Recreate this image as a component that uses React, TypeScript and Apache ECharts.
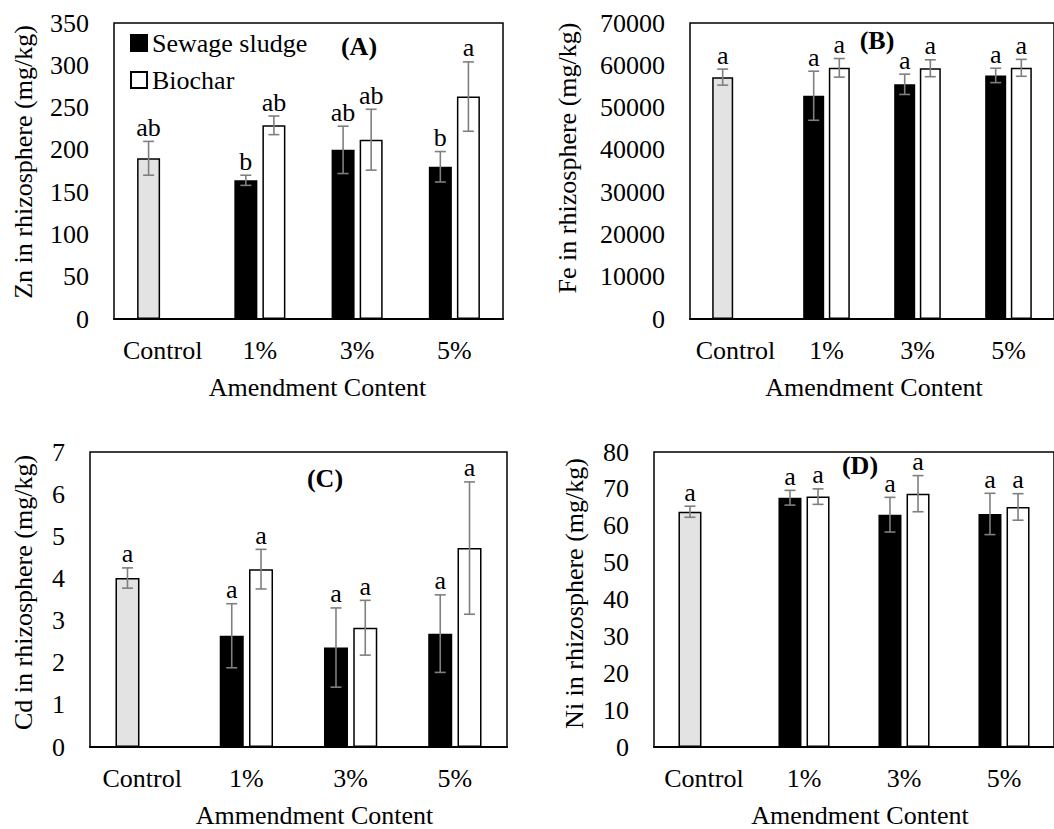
import React, { useEffect, useRef } from "react";
import * as echarts from "echarts";

const categories = ["Control", "1%", "3%", "5%"];

// Panel A: Zn
const znSludge = [190, 164, 200, 180];
const znSludgeErr = [20, 6, 28, 18];
const znSludgeLetters = ["ab", "b", "ab", "b"];
const znBiochar = [null, 229, 212, 263];
const znBiocharErr = [null, 11, 36, 41];
const znBiocharLetters = ["", "ab", "ab", "a"];

// Panel B: Fe
const feSludge = [57200, 52800, 55500, 57600];
const feSludgeErr = [1900, 5800, 2400, 1700];
const feSludgeLetters = ["a", "a", "a", "a"];
const feBiochar = [null, 59400, 59300, 59400];
const feBiocharErr = [null, 2200, 2000, 2000];
const feBiocharLetters = ["", "a", "a", "a"];

// Panel C: Cd
const cdSludge = [4.01, 2.64, 2.36, 2.69];
const cdSludgeErr = [0.24, 0.76, 0.94, 0.92];
const cdSludgeLetters = ["a", "a", "a", "a"];
const cdBiochar = [null, 4.22, 2.83, 4.72];
const cdBiocharErr = [null, 0.47, 0.65, 1.57];
const cdBiocharLetters = ["", "a", "a", "a"];

// Panel D: Ni
const niSludge = [63.8, 67.6, 63.0, 63.2];
const niSludgeErr = [1.5, 2.0, 4.7, 5.6];
const niSludgeLetters = ["a", "a", "a", "a"];
const niBiochar = [null, 67.9, 68.7, 65.1];
const niBiocharErr = [null, 2.1, 4.9, 3.6];
const niBiocharLetters = ["", "a", "a", "a"];

const FONT = "Liberation Serif";
const FS = 26;

type Panel = {
  tag: string;
  yName: string;
  xName: string;
  max: number;
  interval: number;
  sludge: (number | null)[];
  sludgeErr: (number | null)[];
  sludgeLetters: string[];
  biochar: (number | null)[];
  biocharErr: (number | null)[];
  biocharLetters: string[];
  grid: { left: number; top: number; width: number; height: number };
  barW: number;
  yNameGap: number;
  yNameShift: number;
  xNameShift: number;
  tagPos: [number, number];
};

const panels: Panel[] = [
  {
    tag: "(A)", yName: "Zn in rhizosphere (mg/kg)", xName: "Amendment Content",
    max: 350, interval: 50,
    sludge: znSludge, sludgeErr: znSludgeErr, sludgeLetters: znSludgeLetters,
    biochar: znBiochar, biocharErr: znBiocharErr, biocharLetters: znBiocharLetters,
    grid: { left: 114, top: 23, width: 389, height: 296 }, barW: 23,
    yNameGap: 78, yNameShift: 9, xNameShift: 9, tagPos: [359, 46],
  },
  {
    tag: "(B)", yName: "Fe in rhizosphere (mg/kg)", xName: "Amendment Content",
    max: 70000, interval: 10000,
    sludge: feSludge, sludgeErr: feSludgeErr, sludgeLetters: feSludgeLetters,
    biochar: feBiochar, biocharErr: feBiocharErr, biocharLetters: feBiocharLetters,
    grid: { left: 690, top: 23, width: 366, height: 296 }, barW: 21,
    yNameGap: 110, yNameShift: 13, xNameShift: 2, tagPos: [877, 40],
  },
  {
    tag: "(C)", yName: "Cd in rhizosphere (mg/kg)", xName: "Ammendment Content",
    max: 7, interval: 1,
    sludge: cdSludge, sludgeErr: cdSludgeErr, sludgeLetters: cdSludgeLetters,
    biochar: cdBiochar, biocharErr: cdBiocharErr, biocharLetters: cdBiocharLetters,
    grid: { left: 90, top: 452, width: 417, height: 296 }, barW: 24,
    yNameGap: 54, yNameShift: 7, xNameShift: 16, tagPos: [325, 478],
  },
  {
    tag: "(D)", yName: "Ni in rhizosphere (mg/kg)", xName: "Amendment Content",
    max: 80, interval: 10,
    sludge: niSludge, sludgeErr: niSludgeErr, sludgeLetters: niSludgeLetters,
    biochar: niBiochar, biocharErr: niBiocharErr, biocharLetters: niBiocharLetters,
    grid: { left: 654, top: 452, width: 403, height: 296 }, barW: 23,
    yNameGap: 67, yNameShift: 6, xNameShift: 6, tagPos: [860, 465],
  },
];

const GAP = 0.22;

function buildOption() {
  const grids: any[] = [];
  const xAxes: any[] = [];
  const yAxes: any[] = [];
  const series: any[] = [];
  const graphics: any[] = [];

  panels.forEach((p, i) => {
    grids.push({
      ...p.grid,
      show: true,
      borderColor: "#000",
      borderWidth: 1.5,
      backgroundColor: "transparent",
      containLabel: false,
    });
    xAxes.push({
      type: "category",
      gridIndex: i,
      data: categories,
      axisTick: { show: false },
      axisLine: { show: true, lineStyle: { color: "#000", width: 2 } },
      axisLabel: { color: "#000", fontSize: FS, fontFamily: FONT, margin: 18, interval: 0 },
      name: p.xName,
      nameLocation: "middle",
      nameGap: 55,
      nameTextStyle: {
        color: "#000", fontSize: FS, fontFamily: FONT,
        padding: [0, 0, 0, p.xNameShift * 2],
      },
    });
    yAxes.push({
      type: "value",
      gridIndex: i,
      min: 0,
      max: p.max,
      interval: p.interval,
      splitLine: { show: false },
      axisTick: { show: false },
      axisLine: { show: false },
      axisLabel: {
        color: "#000", fontSize: FS, fontFamily: FONT, margin: 25,
        formatter: (v: number) => String(v),
      },
      name: p.yName,
      nameLocation: "middle",
      nameGap: p.yNameGap,
      nameTextStyle: {
        color: "#000", fontSize: FS, fontFamily: FONT,
        padding: [0, 0, 0, p.yNameShift * 2],
      },
    });

    series.push({
      type: "bar",
      name: "Sewage sludge",
      xAxisIndex: i,
      yAxisIndex: i,
      barWidth: p.barW,
      barGap: GAP * 100 + "%",
      z: 2,
      itemStyle: { color: "#000", borderColor: "#000", borderWidth: 1.5 },
      data: p.sludge.map((v, k) =>
        k === 0
          ? { value: v, itemStyle: { color: "#e3e3e3", borderColor: "#000", borderWidth: 1.5 } }
          : v
      ),
    });
    series.push({
      type: "bar",
      name: "Biochar",
      xAxisIndex: i,
      yAxisIndex: i,
      barWidth: p.barW,
      barGap: GAP * 100 + "%",
      z: 2,
      itemStyle: { color: "#fff", borderColor: "#000", borderWidth: 1.5 },
      data: p.biochar.map((v) => (v == null ? "-" : v)),
    });

    const offset = (p.barW * (1 + GAP)) / 2;
    const errData: number[][] = [];
    const letters: string[] = [];
    p.sludge.forEach((v, k) => {
      if (v != null) {
        errData.push([k, v, p.sludgeErr[k] as number, -1]);
        letters.push(p.sludgeLetters[k]);
      }
    });
    p.biochar.forEach((v, k) => {
      if (v != null) {
        errData.push([k, v, p.biocharErr[k] as number, 1]);
        letters.push(p.biocharLetters[k]);
      }
    });

    series.push({
      type: "custom",
      xAxisIndex: i,
      yAxisIndex: i,
      clip: false,
      silent: true,
      z: 10,
      data: errData,
      encode: { x: 0, y: 1 },
      renderItem: (params: any, api: any) => {
        const cat = api.value(0);
        const v = api.value(1);
        const e = api.value(2);
        const side = api.value(3);
        const topP = api.coord([cat, v + e]);
        const botP = api.coord([cat, v - e]);
        const x = topP[0] + side * offset;
        const cap = 5.5;
        const ls = { stroke: "#7f7f7f", lineWidth: 1.6 };
        return {
          type: "group",
          children: [
            { type: "line", shape: { x1: x, y1: topP[1], x2: x, y2: botP[1] }, style: ls },
            { type: "line", shape: { x1: x - cap, y1: topP[1], x2: x + cap, y2: topP[1] }, style: ls },
            { type: "line", shape: { x1: x - cap, y1: botP[1], x2: x + cap, y2: botP[1] }, style: ls },
            {
              type: "text",
              style: {
                text: letters[params.dataIndex],
                x: x,
                y: topP[1] - 1,
                align: "center",
                verticalAlign: "bottom",
                fontSize: FS,
                fontFamily: FONT,
                fill: "#000",
              },
            },
          ],
        };
      },
    });

    graphics.push({
      type: "text",
      x: p.tagPos[0],
      y: p.tagPos[1],
      style: {
        text: p.tag,
        align: "center",
        verticalAlign: "middle",
        fontSize: FS,
        fontWeight: "bold",
        fontFamily: FONT,
        fill: "#000",
      },
    });
  });

  return {
    animation: false,
    backgroundColor: "#fff",
    textStyle: { fontFamily: FONT },
    grid: grids,
    xAxis: xAxes,
    yAxis: yAxes,
    series,
    graphic: graphics,
    legend: {
      data: ["Sewage sludge", "Biochar"],
      orient: "vertical",
      left: 125,
      top: 25,
      itemWidth: 16,
      itemHeight: 16,
      itemGap: 11,
      icon: "rect",
      textStyle: { color: "#000", fontSize: FS, fontFamily: FONT },
    },
  };
}

export default function App() {
  const ref = useRef<HTMLDivElement>(null);
  useEffect(() => {
    if (!ref.current) return;
    const chart = echarts.init(ref.current, undefined, { renderer: "svg" });
    chart.setOption(buildOption() as any);
    return () => chart.dispose();
  }, []);
  return (
    <div
      ref={ref}
      style={{ position: "fixed", left: 0, top: 0, width: 1054, height: 829, background: "#fff" }}
    />
  );
}
